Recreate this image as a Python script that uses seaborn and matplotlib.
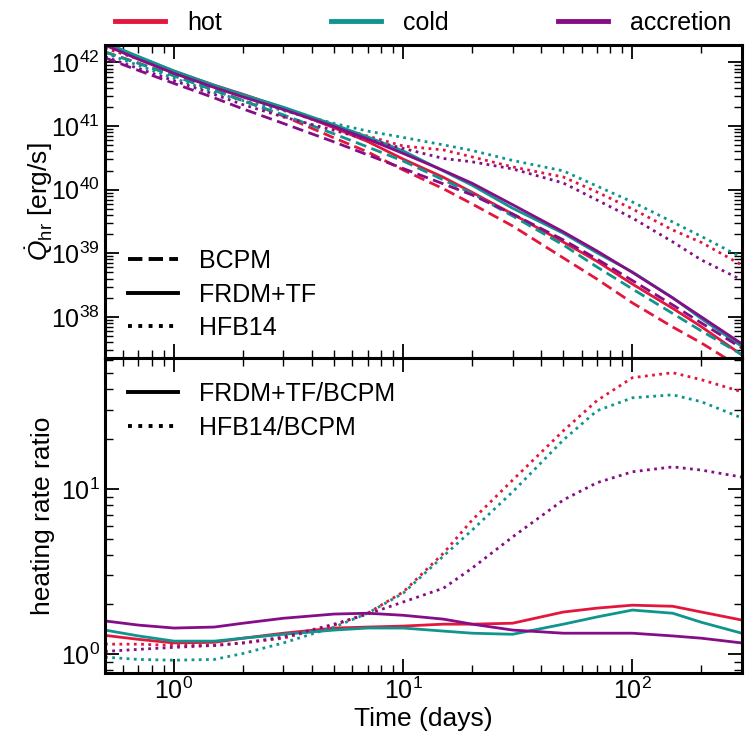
import matplotlib
matplotlib.use("Agg")
import matplotlib.pyplot as plt
import seaborn as sns
import pandas as pd
from matplotlib.lines import Line2D
from matplotlib.ticker import NullFormatter, LogLocator

# time grid (days)
t_days = [0.5, 0.7, 1, 1.5, 2, 3, 5, 7, 10, 15, 20, 30, 50, 70, 100, 150, 200, 300]

# heating rate [erg/s]
q_hot_bcpm = [1.46e42, 9.8e41, 6.25e41, 3.70e41, 2.53e41, 1.44e41, 6.50e40, 3.92e40, 2.04e40,
              1.03e40, 5.96e39, 2.69e39, 8.43e38, 3.94e38, 1.66e38, 6.93e37, 3.89e37, 1.57e37]
q_hot_frdm = [1.91e42, 1.21e42, 7.29e41, 4.38e41, 3.16e41, 1.93e41, 9.35e40, 5.71e40, 3.02e40,
              1.56e40, 9.06e39, 4.14e39, 1.50e39, 7.50e38, 3.28e38, 1.36e38, 7.00e37, 2.53e37]
q_hot_hfb = [1.68e42, 1.13e42, 7.10e41, 4.20e41, 2.95e41, 1.80e41, 9.75e40, 6.95e40, 4.85e40,
             4.21e40, 3.27e40, 2.28e40, 1.58e40, 9.20e39, 4.98e39, 2.32e39, 1.48e39, 6.55e38]

q_cold_bcpm = [1.46e42, 9.64e41, 6.14e41, 3.63e41, 2.48e41, 1.50e41, 7.52e40, 4.69e40, 2.82e40,
               1.42e40, 8.71e39, 3.86e39, 1.35e39, 6.10e38, 2.75e38, 1.13e38, 6.00e37, 2.56e37]
q_cold_frdm = [2.05e42, 1.24e42, 7.36e41, 4.36e41, 3.10e41, 1.98e41, 1.05e41, 6.75e40, 4.06e40,
               1.96e40, 1.17e40, 5.11e39, 2.06e39, 1.02e39, 5.08e38, 2.00e38, 9.38e37, 3.44e37]
q_cold_hfb = [1.40e42, 8.99e41, 5.65e41, 3.39e41, 2.52e41, 1.75e41, 1.10e41, 8.32e40, 6.62e40,
              5.05e40, 4.13e40, 2.88e40, 1.97e40, 1.14e40, 6.41e39, 3.10e39, 1.84e39, 8.59e38]

q_accr_bcpm = [1.18e42, 7.48e41, 4.68e41, 2.77e41, 1.86e41, 1.10e41, 5.62e40, 3.52e40, 2.15e40,
               1.23e40, 8.26e39, 4.15e39, 1.62e39, 8.13e38, 3.73e38, 1.54e38, 8.02e37, 3.24e37]
q_accr_frdm = [1.87e42, 1.12e42, 6.73e41, 4.04e41, 2.86e41, 1.82e41, 9.82e40, 6.24e40, 3.71e40,
               2.00e40, 1.26e40, 5.81e39, 2.17e39, 1.09e39, 5.00e38, 1.98e38, 1.00e38, 3.78e37]
q_accr_hfb = [1.23e42, 8.02e41, 5.15e41, 3.14e41, 2.17e41, 1.39e41, 8.55e40, 6.14e40, 4.45e40,
              3.09e40, 2.74e40, 2.12e40, 1.27e40, 6.89e39, 3.59e39, 1.51e39, 7.85e38, 3.80e38]

# ratios to BCPM
ratio_hot_frdm = [1.30, 1.23, 1.17, 1.18, 1.25, 1.34, 1.44, 1.46, 1.48, 1.52, 1.52, 1.54, 1.80, 1.90, 1.98, 1.95, 1.80, 1.61]
ratio_cold_frdm = [1.40, 1.29, 1.20, 1.20, 1.25, 1.32, 1.40, 1.44, 1.44, 1.38, 1.34, 1.32, 1.52, 1.68, 1.85, 1.77, 1.56, 1.34]
ratio_accr_frdm = [1.59, 1.50, 1.44, 1.46, 1.54, 1.65, 1.75, 1.77, 1.72, 1.63, 1.52, 1.40, 1.34, 1.34, 1.34, 1.29, 1.25, 1.17]
ratio_hot_hfb = [1.15, 1.15, 1.13, 1.13, 1.17, 1.25, 1.50, 1.77, 2.38, 4.09, 6.49, 11.3, 22.5, 34.2, 47.1, 50.5, 45.8, 38.7]
ratio_cold_hfb = [0.96, 0.93, 0.92, 0.93, 1.01, 1.17, 1.46, 1.77, 2.34, 3.93, 5.64, 9.59, 19.8, 29.7, 35.6, 37.1, 33.7, 26.9]
ratio_accr_hfb = [1.04, 1.07, 1.10, 1.13, 1.17, 1.27, 1.52, 1.75, 2.07, 2.51, 3.32, 5.12, 8.58, 10.9, 12.7, 13.6, 13.0, 11.8]

cases = ['hot', 'cold', 'accretion']
colors = {'hot': '#e3173e', 'cold': '#0f958e', 'accretion': '#860d88'}

top_series = {
    ('hot', 'BCPM'): q_hot_bcpm, ('hot', 'FRDM+TF'): q_hot_frdm, ('hot', 'HFB14'): q_hot_hfb,
    ('cold', 'BCPM'): q_cold_bcpm, ('cold', 'FRDM+TF'): q_cold_frdm, ('cold', 'HFB14'): q_cold_hfb,
    ('accretion', 'BCPM'): q_accr_bcpm, ('accretion', 'FRDM+TF'): q_accr_frdm, ('accretion', 'HFB14'): q_accr_hfb,
}
bottom_series = {
    ('hot', 'FRDM+TF/BCPM'): ratio_hot_frdm, ('hot', 'HFB14/BCPM'): ratio_hot_hfb,
    ('cold', 'FRDM+TF/BCPM'): ratio_cold_frdm, ('cold', 'HFB14/BCPM'): ratio_cold_hfb,
    ('accretion', 'FRDM+TF/BCPM'): ratio_accr_frdm, ('accretion', 'HFB14/BCPM'): ratio_accr_hfb,
}

top = pd.concat([pd.DataFrame({'t': t_days, 'val': v, 'case': c, 'model': m})
                 for (c, m), v in top_series.items()], ignore_index=True)
bottom = pd.concat([pd.DataFrame({'t': t_days, 'val': v, 'case': c, 'model': m})
                    for (c, m), v in bottom_series.items()], ignore_index=True)

# plain white style, ticks inside on every side
plt.rcParams.update({
    'font.family': ['Liberation Sans', 'DejaVu Sans'],
    'mathtext.fontset': 'custom',
    'mathtext.rm': 'Liberation Sans',
    'mathtext.it': 'Liberation Sans:italic',
    'mathtext.bf': 'Liberation Sans:bold',
    'axes.linewidth': 2.2,
    'axes.edgecolor': 'black',
    'xtick.direction': 'in', 'ytick.direction': 'in',
    'xtick.top': True, 'ytick.right': True,
    'xtick.major.size': 10, 'ytick.major.size': 10,
    'xtick.minor.size': 5.5, 'ytick.minor.size': 5.5,
    'xtick.major.width': 1.3, 'ytick.major.width': 1.3,
    'xtick.minor.width': 1.0, 'ytick.minor.width': 1.0,
    'xtick.labelsize': 18, 'ytick.labelsize': 18,
    'xtick.color': 'black', 'ytick.color': 'black',
})

fig = plt.figure(figsize=(7.5, 7.5), dpi=100)
ax1 = fig.add_axes([0.14, 0.5227, 0.849, 0.4173])
ax2 = fig.add_axes([0.14, 0.1027, 0.849, 0.42])

dash_top = {'BCPM': (4, 2), 'FRDM+TF': '', 'HFB14': (1, 1.6)}
dash_bot = {'FRDM+TF/BCPM': '', 'HFB14/BCPM': (1, 1.6)}

sns.lineplot(data=top, x='t', y='val', hue='case', style='model', hue_order=cases,
             palette=colors, dashes=dash_top, lw=2, legend=False, ax=ax1)
sns.lineplot(data=bottom, x='t', y='val', hue='case', style='model', hue_order=cases,
             palette=colors, dashes=dash_bot, lw=2, legend=False, ax=ax2)

for ax in (ax1, ax2):
    ax.set_xscale('log')
    ax.set_yscale('log')
    ax.set_xlim(0.5, 300)
    ax.xaxis.set_major_locator(LogLocator(base=10, numticks=10))
    ax.xaxis.set_minor_locator(LogLocator(base=10, subs=range(2, 10), numticks=20))
    ax.yaxis.set_major_locator(LogLocator(base=10, numticks=10))
    ax.yaxis.set_minor_locator(LogLocator(base=10, subs=range(2, 10), numticks=20))
    ax.xaxis.set_minor_formatter(NullFormatter())
    ax.yaxis.set_minor_formatter(NullFormatter())
    ax.set_xlabel('')

ax1.set_ylim(2.26e37, 1.88e42)
ax2.set_ylim(0.77, 62)
ax1.tick_params(labelbottom=False)

ax1.set_ylabel(r'$\dot{Q}_{\rm hr}$ [erg/s]', fontsize=19)
ax2.set_ylabel('heating rate ratio', fontsize=19)
ax2.set_xlabel('Time (days)', fontsize=19, labelpad=2)
ax1.yaxis.set_label_coords(-0.078, 0.5)
ax2.yaxis.set_label_coords(-0.078, 0.5)

# legends
model_handles = [Line2D([], [], color='k', lw=2.8, ls=ls) for ls in ['--', '-', ':']]
ax1.legend(model_handles, ['BCPM', 'FRDM+TF', 'HFB14'], loc='lower left', frameon=False,
           bbox_to_anchor=(0.0, -0.015), fontsize=18, handlelength=2.0,
           labelspacing=0.38, handletextpad=0.85)
ratio_handles = [Line2D([], [], color='k', lw=2.8, ls=ls) for ls in ['-', ':']]
ax2.legend(ratio_handles, ['FRDM+TF/BCPM', 'HFB14/BCPM'], loc='upper left', frameon=False,
           bbox_to_anchor=(0.0, 0.995), fontsize=18, handlelength=2.0,
           labelspacing=0.38, handletextpad=0.85)

case_handles = [Line2D([], [], color=colors[c], lw=3.5) for c in cases]
fig.legend(case_handles, cases, loc='lower left', bbox_to_anchor=(0.14, 0.94, 0.849, 0.06),
           mode='expand', ncol=3, frameon=False, fontsize=18, handlelength=2.0,
           handletextpad=0.9, borderaxespad=0)

fig.savefig('out.png', dpi=100)
